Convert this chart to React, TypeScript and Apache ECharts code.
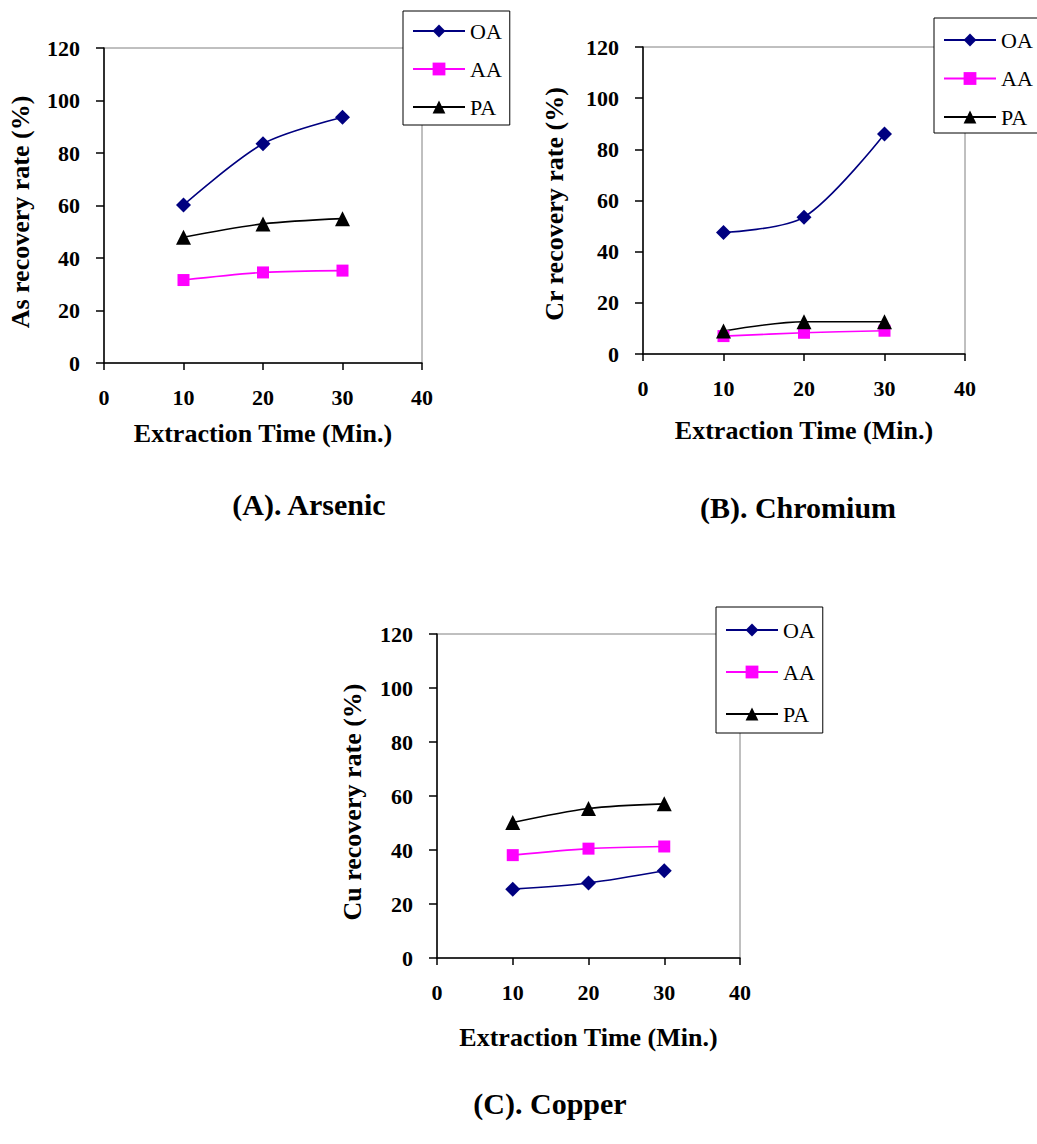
import React, { useEffect, useRef } from "react";
import * as echarts from "echarts";

const FONT = "'Liberation Serif', 'Times New Roman', serif";

// Extraction time (min)
const times = [10, 20, 30];

// (A) Arsenic recovery rate (%)
const asOA = [60.2, 83.5, 93.6];
const asAA = [31.6, 34.5, 35.2];
const asPA = [47.9, 53.0, 55.0];

// (B) Chromium recovery rate (%)
const crOA = [47.5, 53.5, 86.0];
const crAA = [7.0, 8.3, 9.1];
const crPA = [9.0, 12.6, 12.6];

// (C) Copper recovery rate (%)
const cuOA = [25.5, 27.8, 32.3];
const cuAA = [38.1, 40.5, 41.3];
const cuPA = [50.2, 55.4, 57.1];

const seriesNames = ["OA", "AA", "PA"];
const seriesColors = ["#000080", "#FF00FF", "#000000"];
const seriesSymbols = ["diamond", "rect", "triangle"];
const symbolSizes = [15, 12, 15];

const panelTitles = ["(A). Arsenic", "(B). Chromium", "(C). Copper"];
const yNames = ["As recovery rate (%)", "Cr recovery rate (%)", "Cu recovery rate (%)"];
const xName = "Extraction Time (Min.)";

const panelData = [
  [asOA, asAA, asPA],
  [crOA, crAA, crPA],
  [cuOA, cuAA, cuPA],
];

const grids = [
  { left: 104, top: 48, width: 318, height: 315 },
  { left: 643, top: 47, width: 322, height: 307 },
  { left: 437, top: 634, width: 303, height: 324 },
];
const yNameGaps = [71, 76, 72];
const yNameShift = [13, 7, 12];
const xNameGaps = [57, 63, 66];
const legends = [
  { left: 403, top: 11, padding: [9, 8, 7, 9], itemGap: 16 },
  { left: 934, top: 18, padding: [11, 8, 5, 9], itemGap: 16.5 },
  { left: 716, top: 607, padding: [12, 8, 8, 9], itemGap: 20 },
];
const titlePos = [
  [309, 504],
  [798, 507],
  [550, 1103],
];

export default function App() {
  const ref = useRef<HTMLDivElement>(null);

  useEffect(() => {
    if (!ref.current) return;
    const chart = echarts.init(ref.current, null, { renderer: "svg" });

    const xAxis = grids.map((_, i) => ({
      type: "value",
      gridIndex: i,
      min: 0,
      max: 40,
      interval: 10,
      name: xName,
      nameLocation: "middle",
      nameGap: xNameGaps[i],
      nameTextStyle: { fontFamily: FONT, fontWeight: "bold", fontSize: 26, color: "#000" },
      axisLine: { show: true, onZero: false, lineStyle: { color: "#000", width: 1.5 } },
      axisTick: { show: true, length: 7, lineStyle: { color: "#000", width: 1.5 } },
      axisLabel: { fontFamily: FONT, fontWeight: "bold", fontSize: 22, color: "#000", margin: 23 },
      splitLine: { show: false },
    }));

    const yAxis = grids.map((_, i) => ({
      type: "value",
      gridIndex: i,
      min: 0,
      max: 120,
      interval: 20,
      name: yNames[i],
      nameLocation: "middle",
      nameGap: yNameGaps[i],
      nameTextStyle: {
        fontFamily: FONT,
        fontWeight: "bold",
        fontSize: 26,
        color: "#000",
        padding: [0, yNameShift[i], 0, 0],
      },
      axisLine: { show: true, onZero: false, lineStyle: { color: "#000", width: 1.5 } },
      axisTick: { show: true, length: 8, lineStyle: { color: "#000", width: 1.5 } },
      axisLabel: { fontFamily: FONT, fontWeight: "bold", fontSize: 22, color: "#000", margin: 24 },
      splitLine: { show: false },
    }));

    const series: any[] = [];
    panelData.forEach((sets, p) => {
      sets.forEach((vals, s) => {
        series.push({
          type: "line",
          name: seriesNames[s],
          xAxisIndex: p,
          yAxisIndex: p,
          data: times.map((t, k) => [t, vals[k]]),
          smooth: 0.3,
          symbol: seriesSymbols[s],
          symbolSize: symbolSizes[s],
          lineStyle: { color: seriesColors[s], width: 1.6 },
          itemStyle: { color: seriesColors[s] },
        });
      });
    });

    const legend = legends.map((l) => ({
      show: true,
      orient: "vertical",
      left: l.left,
      top: l.top,
      padding: l.padding,
      itemGap: l.itemGap,
      itemWidth: 52,
      itemHeight: 16,
      data: seriesNames,
      backgroundColor: "#fff",
      borderColor: "#000",
      borderWidth: 1,
      selectedMode: false,
      textStyle: { fontFamily: FONT, fontSize: 22, color: "#000" },
    }));

    const graphic = panelTitles.map((t, i) => ({
      type: "text",
      x: titlePos[i][0],
      y: titlePos[i][1],
      style: {
        text: t,
        fontFamily: FONT,
        fontWeight: "bold",
        fontSize: 30,
        fill: "#000",
        textAlign: "center",
        textVerticalAlign: "middle",
      },
    }));

    chart.setOption({
      animation: false,
      backgroundColor: "#fff",
      grid: grids.map((g) => ({
        ...g,
        show: true,
        borderColor: "#808080",
        borderWidth: 1,
        backgroundColor: "transparent",
        containLabel: false,
      })),
      xAxis,
      yAxis,
      legend,
      series,
      graphic,
    });

    return () => chart.dispose();
  }, []);

  return (
    <div
      ref={ref}
      style={{ position: "absolute", left: 0, top: 0, width: 1037, height: 1144, background: "#fff" }}
    />
  );
}
